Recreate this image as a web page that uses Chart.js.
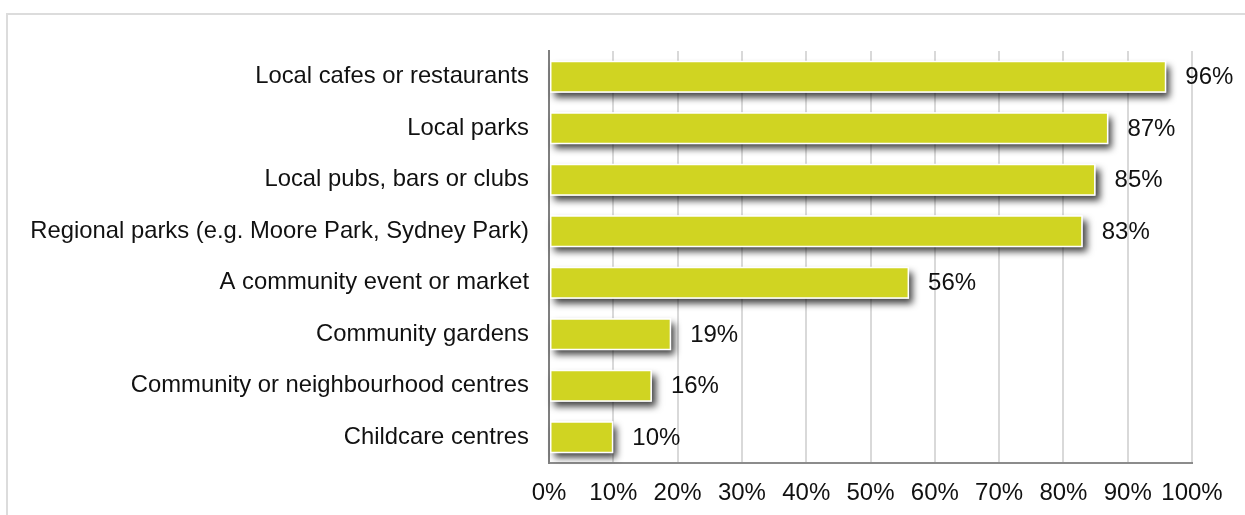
<!DOCTYPE html>
<html>
<head>
<meta charset="utf-8">
<script src="https://cdn.jsdelivr.net/npm/chart.js@4"></script>
<style>
  html, body { margin: 0; padding: 0; background: #fff; overflow: hidden; }
  #wrap { position: relative; width: 1245px; height: 515px; }
  #frame { position: absolute; left: 6px; top: 13px; width: 1300px; height: 600px;
           border-top: 2px solid #dcdcdc; border-left: 2px solid #dcdcdc; }
  #myChart { position: absolute; left: 0; top: 0; }
</style>
</head>
<body>
<div id="wrap">
  <div id="frame"></div>
  <canvas id="myChart" width="1245" height="515"></canvas>
</div>
<script>
const places = [
  'Local cafes or restaurants',
  'Local parks',
  'Local pubs, bars or clubs',
  'Regional parks (e.g. Moore Park, Sydney Park)',
  'A community event or market',
  'Community gardens',
  'Community or neighbourhood centres',
  'Childcare centres',
];
const shares = [96, 87, 85, 83, 56, 19, 16, 10];
const tickValues = [0, 10, 20, 30, 40, 50, 60, 70, 80, 90, 100];

const FONT = '"Liberation Sans", Arial, sans-serif';
const INK = '#111111';

// soft drop shadow under every bar, painted before the bars themselves
const barShadow = {
  id: 'barShadow',
  beforeDatasetsDraw(chart) {
    const ctx = chart.ctx;
    const meta = chart.getDatasetMeta(0);
    ctx.save();
    ctx.shadowColor = 'rgba(0,0,0,0.75)';
    ctx.shadowBlur = 7;
    ctx.shadowOffsetX = 4;
    ctx.shadowOffsetY = 5;
    ctx.fillStyle = '#fff';
    meta.data.forEach(bar => {
      const p = bar.getProps(['x', 'y', 'base', 'height'], true);
      ctx.fillRect(p.base, p.y - p.height / 2, p.x - p.base, p.height);
    });
    ctx.restore();
  }
};

// percentage next to the end of each bar
const valueLabels = {
  id: 'valueLabels',
  afterDatasetsDraw(chart) {
    const ctx = chart.ctx;
    const meta = chart.getDatasetMeta(0);
    ctx.save();
    ctx.font = '24px ' + FONT;
    ctx.fillStyle = INK;
    ctx.textAlign = 'left';
    ctx.textBaseline = 'middle';
    meta.data.forEach((bar, i) => {
      ctx.fillText(shares[i] + '%', bar.x + 19, bar.y + 1);
    });
    ctx.restore();
  }
};

const data = {
  labels: places,
  datasets: [{
    data: shares,
    backgroundColor: 'rgb(208, 212, 34)',
    borderColor: '#ffffff',
    borderWidth: 1.5,
    borderSkipped: false,
    barPercentage: 0.62,
    categoryPercentage: 1,
  }]
};

const config = {
  type: 'bar',
  data: data,
  options: {
    indexAxis: 'y',
    responsive: false,
    animation: false,
    layout: { padding: { top: 51, right: 53, left: 0, bottom: 0 } },
    plugins: {
      legend: { display: false },
      tooltip: { enabled: false },
    },
    scales: {
      x: {
        min: 0,
        max: 100,
        afterFit: scale => { scale.height = 52; },
        afterBuildTicks: scale => { scale.ticks = tickValues.map(v => ({ value: v })); },
        ticks: {
          padding: 16,
          color: INK,
          maxRotation: 0,
          minRotation: 0,
          autoSkip: false,
          font: { family: FONT, size: 24 },
          callback: v => v + '%',
        },
        grid: { color: '#d9d9d9', lineWidth: 2, drawTicks: false },
        border: { color: '#8c8c8c', width: 2 },
      },
      y: {
        afterFit: scale => { scale.width = 549; },
        ticks: {
          padding: 20,
          color: INK,
          font: { family: FONT, size: 23.8 },
        },
        grid: { display: false, drawTicks: false },
        border: { color: '#7f7f7f', width: 2 },
      }
    }
  },
  plugins: [barShadow, valueLabels]
};

const myChart = new Chart(document.getElementById('myChart'), config);
</script>
</body>
</html>
